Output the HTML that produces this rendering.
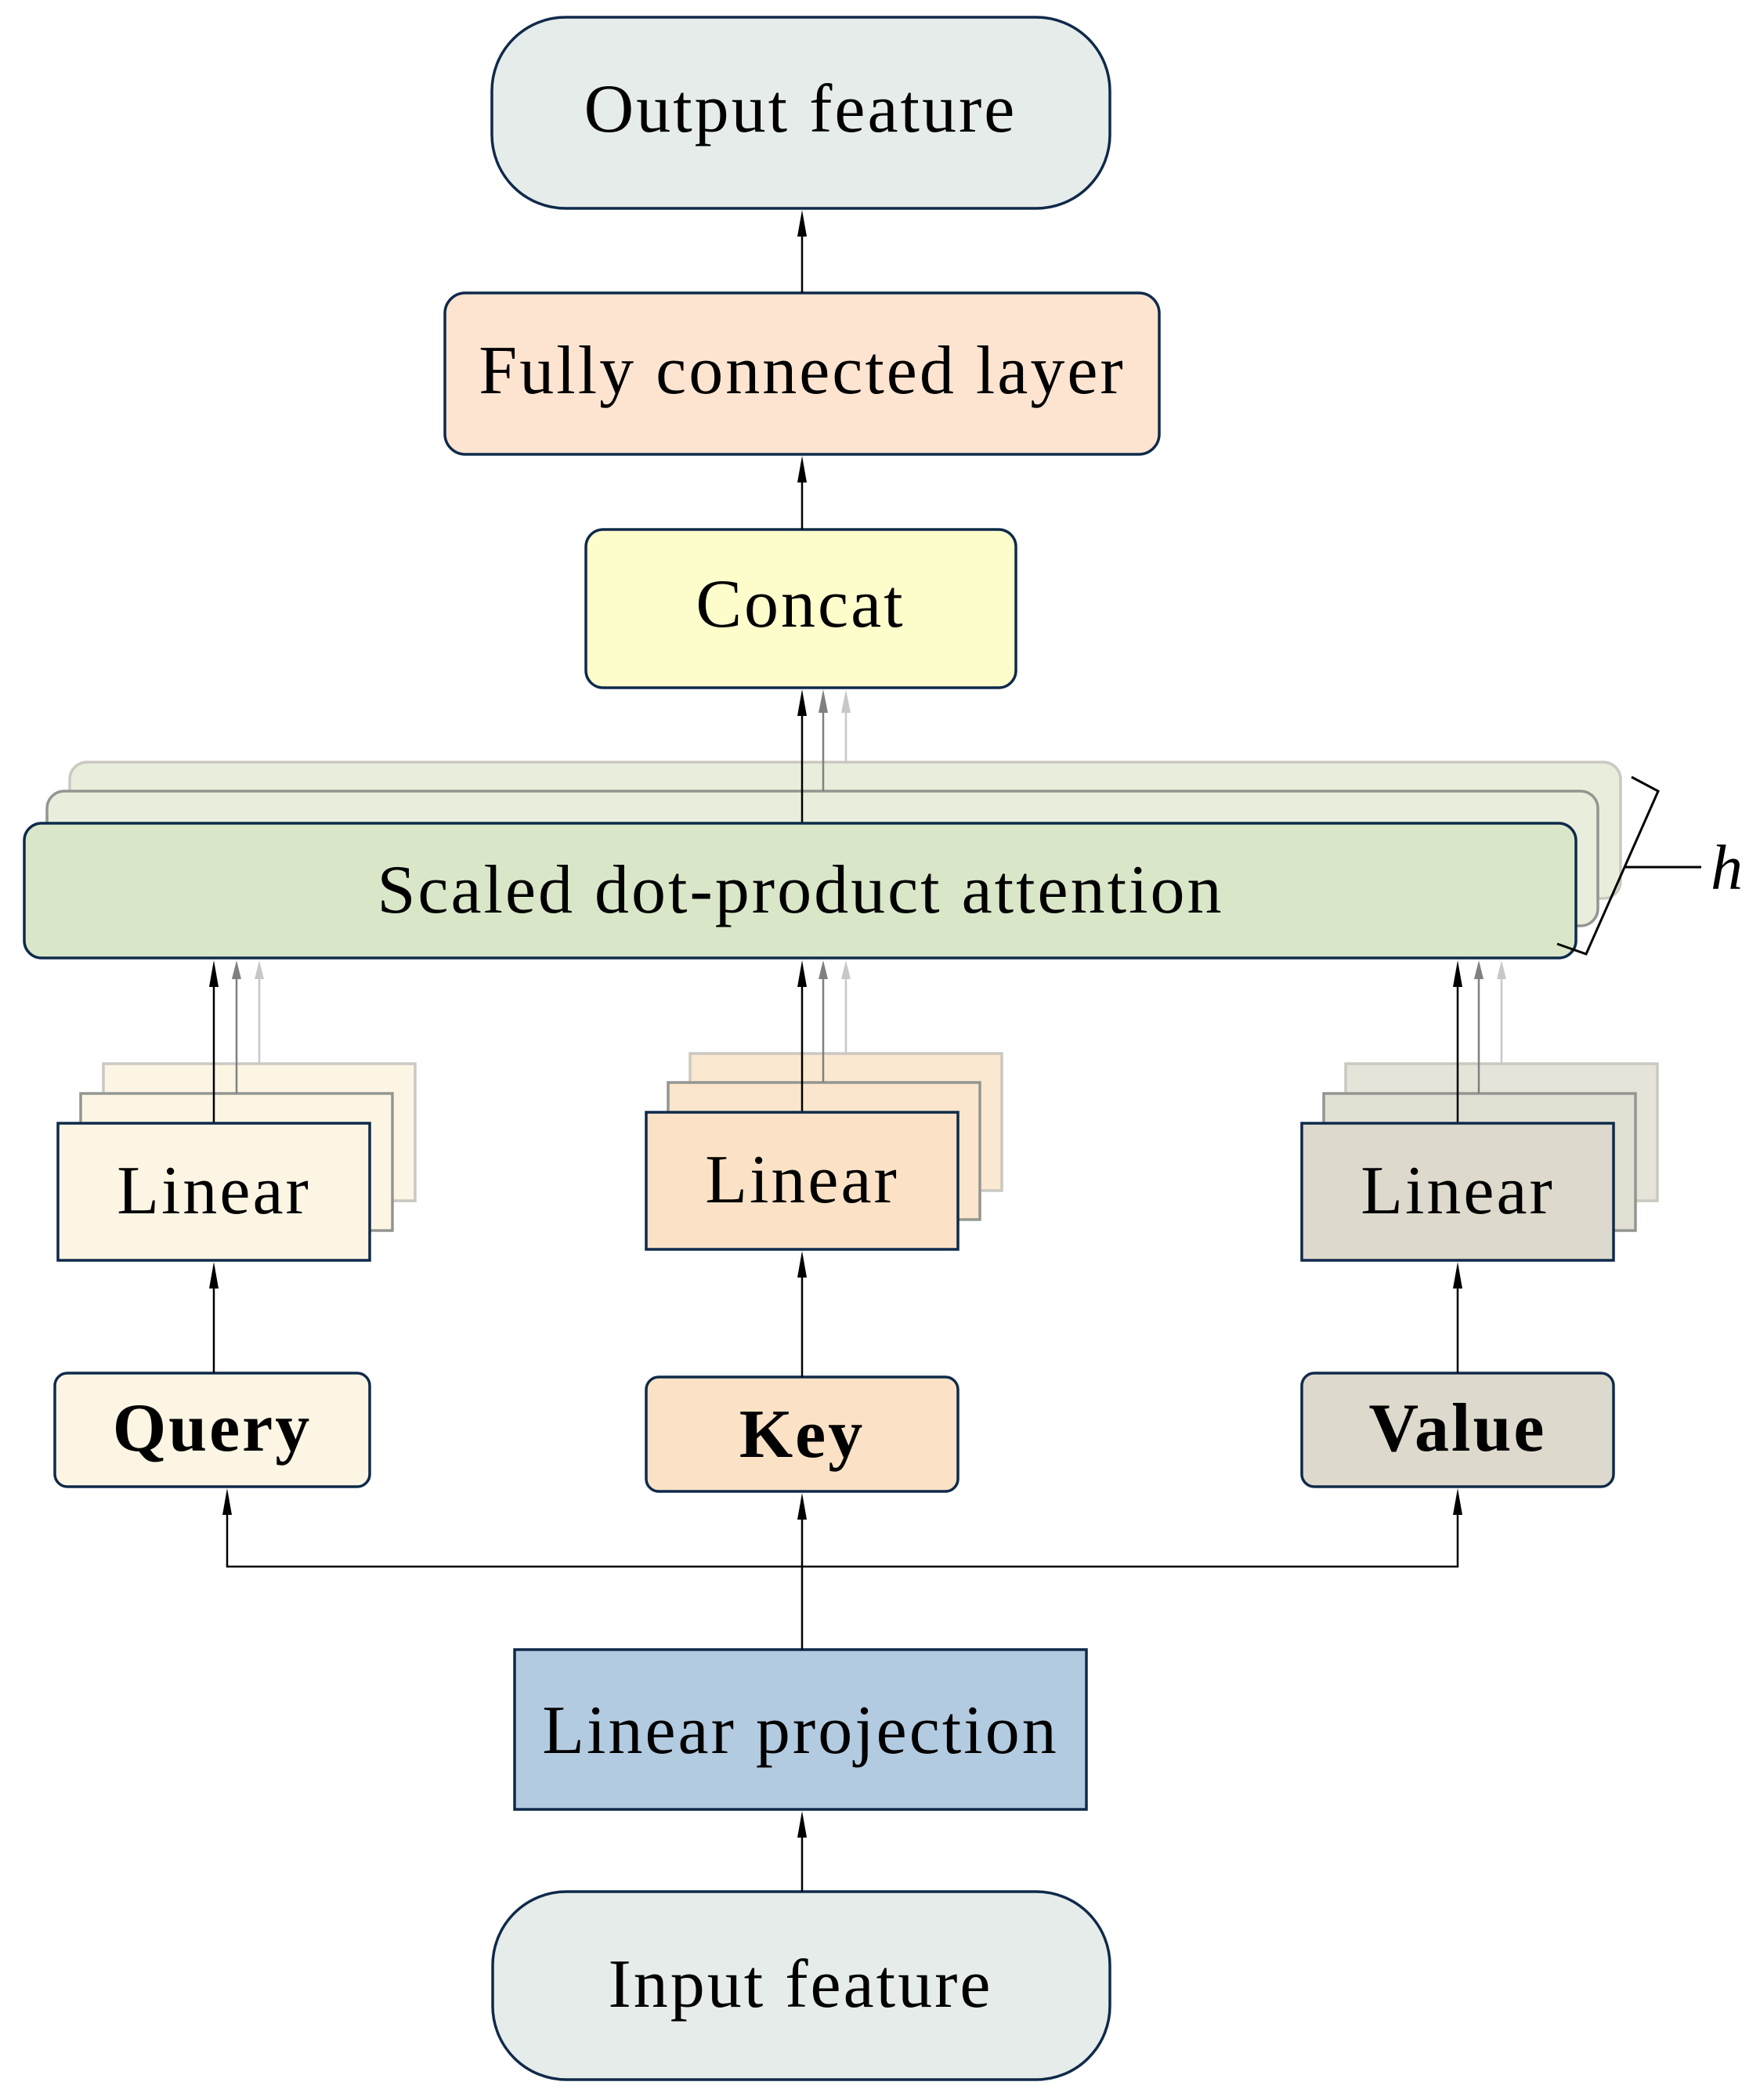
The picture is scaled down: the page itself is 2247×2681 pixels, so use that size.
<!DOCTYPE html>
<html><head><meta charset="utf-8"><style>
html,body{margin:0;padding:0;background:#fff;}
svg{display:block;}
text{font-family:"Liberation Serif",serif;fill:#000;}
</style></head><body>
<svg width="2247" height="2681" viewBox="0 0 2247 2681" xmlns="http://www.w3.org/2000/svg">
<g stroke="#0f2a4a" stroke-width="3.5">
<rect x="628" y="22" width="789" height="244" rx="94" fill="#e6ecea"/>
<rect x="568" y="374" width="912" height="206" rx="26" fill="#fde4d0"/>
<rect x="748" y="676" width="549" height="202" rx="22" fill="#fdfdcc"/>
</g>
<!-- attention stack -->
<rect x="89" y="973" width="1980" height="174" rx="22" fill="#e8eedb" stroke="#cbc8c2" stroke-width="3.5"/>
<rect x="60" y="1010" width="1980" height="172" rx="22" fill="#e8eedb" stroke="#939690" stroke-width="3.5"/>
<!-- concat arrows -->
<line x1="1080" y1="975" x2="1080" y2="900" stroke="#c8c8c8" stroke-width="2.5"/>
<polygon points="1074,910 1080,880 1086,910" fill="#c8c8c8"/>
<line x1="1051" y1="1010" x2="1051" y2="900" stroke="#808080" stroke-width="2.5"/>
<polygon points="1045,910 1051,880 1057,910" fill="#808080"/>
<line x1="1024" y1="1050" x2="1024" y2="900" stroke="#000" stroke-width="2.5"/>
<polygon points="1018,914 1024,880 1030,914" fill="#000"/>
<rect x="31" y="1051" width="1981" height="172" rx="22" fill="#d9e6c8" stroke="#0f2a4a" stroke-width="3.5"/>
<!-- brace -->
<polyline points="2083,992 2117,1010 2025,1218 1988,1205" fill="none" stroke="#000" stroke-width="3"/>
<line x1="2075" y1="1107" x2="2172" y2="1107" stroke="#000" stroke-width="3"/>
<text x="2184" y="1135" font-size="82" font-style="italic">h</text>
<!-- linear stacks -->
<g stroke-width="3.5">
<rect x="132" y="1358" width="398" height="175" fill="#fcf5e4" stroke="#cbc8c2"/>
<rect x="103" y="1396" width="398" height="175" fill="#fcf5e4" stroke="#939690"/>
<rect x="881" y="1345" width="398" height="175" fill="#fbe8d0" stroke="#cbc8c2"/>
<rect x="853" y="1382" width="398" height="175" fill="#fbe5cc" stroke="#939690"/>
<rect x="1718" y="1358" width="398" height="175" fill="#e6e3d8" stroke="#cbc8c2"/>
<rect x="1690" y="1396" width="398" height="175" fill="#e2dfd3" stroke="#939690"/>
</g>
<!-- arrows to attention -->
<g stroke-width="2.5">
<line x1="331" y1="1358" x2="331" y2="1240" stroke="#c8c8c8"/>
<line x1="302" y1="1396" x2="302" y2="1240" stroke="#808080"/>
<line x1="273" y1="1434" x2="273" y2="1250" stroke="#000"/>
<line x1="1080" y1="1345" x2="1080" y2="1240" stroke="#c8c8c8"/>
<line x1="1051" y1="1382" x2="1051" y2="1240" stroke="#808080"/>
<line x1="1024" y1="1420" x2="1024" y2="1250" stroke="#000"/>
<line x1="1917" y1="1358" x2="1917" y2="1240" stroke="#c8c8c8"/>
<line x1="1888" y1="1396" x2="1888" y2="1240" stroke="#808080"/>
<line x1="1861" y1="1434" x2="1861" y2="1250" stroke="#000"/>
</g>
<g fill="#c8c8c8">
<polygon points="325,1250 331,1226 337,1250"/>
<polygon points="1074,1250 1080,1226 1086,1250"/>
<polygon points="1911,1250 1917,1226 1923,1250"/>
</g>
<g fill="#808080">
<polygon points="296,1250 302,1226 308,1250"/>
<polygon points="1045,1250 1051,1226 1057,1250"/>
<polygon points="1882,1250 1888,1226 1894,1250"/>
</g>
<g fill="#000">
<polygon points="267,1260 273,1226 279,1260"/>
<polygon points="1018,1260 1024,1226 1030,1260"/>
<polygon points="1855,1260 1861,1226 1867,1260"/>
</g>
<g stroke="#0f2a4a" stroke-width="3.5">
<rect x="74" y="1434" width="398" height="175" fill="#fcf5e4"/>
<rect x="825" y="1420" width="398" height="175" fill="#fbe2c6"/>
<rect x="1662" y="1434" width="398" height="175" fill="#ddd9cc"/>
<rect x="70" y="1753" width="402" height="145" rx="16" fill="#fcf5e4"/>
<rect x="825" y="1758" width="398" height="146" rx="16" fill="#fbe2c6"/>
<rect x="1662" y="1753" width="398" height="145" rx="16" fill="#ddd9cc"/>
<rect x="657" y="2106" width="730" height="204" fill="#b3cbe0"/>
<rect x="629" y="2415" width="788" height="240" rx="94" fill="#e6ecea"/>
</g>
<!-- other arrows -->
<g stroke="#000" stroke-width="2.5" fill="none">
<line x1="1024" y1="374" x2="1024" y2="290"/>
<line x1="1024" y1="676" x2="1024" y2="600"/>
<line x1="273" y1="1753" x2="273" y2="1630"/>
<line x1="1024" y1="1758" x2="1024" y2="1620"/>
<line x1="1861" y1="1753" x2="1861" y2="1630"/>
<line x1="1024" y1="2106" x2="1024" y2="1920"/>
<polyline points="290,1920 290,2000 1861,2000 1861,1920"/>
<line x1="1024" y1="2415" x2="1024" y2="2330"/>
</g>
<g fill="#000">
<polygon points="1018,302 1024,268 1030,302"/>
<polygon points="1018,616 1024,582 1030,616"/>
<polygon points="267,1645 273,1611 279,1645"/>
<polygon points="1018,1631 1024,1597 1030,1631"/>
<polygon points="1855,1645 1861,1611 1867,1645"/>
<polygon points="284,1934 290,1900 296,1934"/>
<polygon points="1018,1940 1024,1906 1030,1940"/>
<polygon points="1855,1934 1861,1900 1867,1934"/>
<polygon points="1018,2346 1024,2312 1030,2346"/>
</g>
<g font-size="88" text-anchor="middle" letter-spacing="3">
<text x="1022" y="168">Output feature</text>
<text x="1024" y="502">Fully connected layer</text>
<text x="1022" y="800">Concat</text>
<text x="1022" y="1165">Scaled dot-product attention</text>
<text x="273" y="1549">Linear</text>
<text x="1024" y="1535">Linear</text>
<text x="1861" y="1549">Linear</text>
<text x="271" y="1852" font-weight="bold">Query</text>
<text x="1024" y="1860" font-weight="bold">Key</text>
<text x="1861" y="1852" font-weight="bold">Value</text>
<text x="1022" y="2238">Linear projection</text>
<text x="1022" y="2562">Input feature</text>
</g>
</svg>
</body></html>
